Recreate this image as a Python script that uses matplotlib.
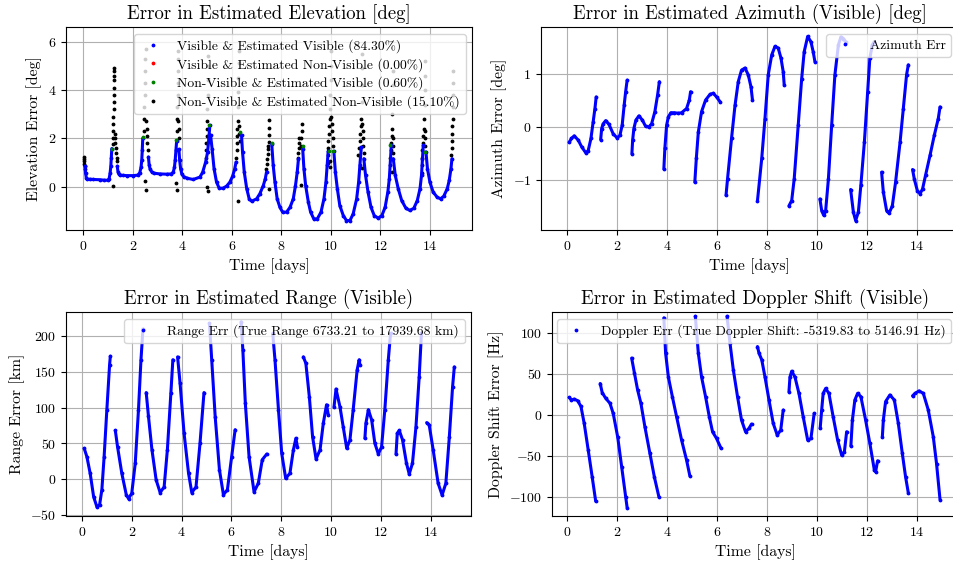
import matplotlib
matplotlib.use('Agg')
import matplotlib.pyplot as plt
from matplotlib.lines import Line2D
import numpy as np

nan = np.nan

# ---- elevation error [deg] (visible & estimated visible), passes split by nan
el_t = [0.07, 0.09, 0.12, 0.16, 0.25, 0.41, 0.67, 0.85, 0.98, 1.04, 1.08, 1.11, 1.13, 1.15, nan,
        1.37, 1.40, 1.44, 1.50, 1.60, 1.75, 2.02, 2.20, 2.28, 2.33, 2.36, 2.38, 2.40, nan,
        2.63, 2.66, 2.70, 2.76, 2.85, 3.10, 3.37, 3.55, 3.63, 3.68, 3.71, 3.74, 3.77, nan,
        3.86, 3.89, 3.93, 3.98, 4.05, 4.20, 4.44, 4.71, 4.82, 4.94, 5.02, 5.07, 5.11, nan,
        5.14, 5.20, 5.28, 5.38, 5.49, 5.65, 5.79, 5.92, 6.03, 6.11, 6.17, nan,
        6.39, 6.43, 6.50, 6.60, 6.70, 6.80, 7.00, 7.13, 7.27, 7.35, 7.40, nan,
        7.61, 7.67, 7.74, 7.83, 7.94, 8.05, 8.21, 8.35, 8.48, 8.57, 8.64, 8.69, nan,
        8.86, 8.91, 8.98, 9.09, 9.18, 9.31, 9.45, 9.60, 9.72, 9.80, 9.85, 9.89, nan,
        10.12, 10.18, 10.26, 10.36, 10.50, 10.63, 10.77, 10.90, 11.04, 11.12, 11.17, 11.23, nan,
        11.33, 11.40, 11.50, 11.62, 11.75, 11.91, 12.06, 12.19, 12.30, 12.36, 12.41, 12.44, nan,
        12.52, 12.60, 12.72, 12.86, 13.03, 13.19, 13.35, 13.49, 13.60, 13.66, 13.70, 13.73, nan,
        13.84, 13.90, 14.00, 14.13, 14.29, 14.43, 14.56, 14.70, 14.78, 14.85, 14.89]
el_err = [0.85, 0.55, 0.38, 0.32, 0.31, 0.30, 0.29, 0.27, 0.27, 0.33, 0.55, 0.85, 1.20, 1.58, nan,
          0.85, 0.62, 0.52, 0.48, 0.47, 0.46, 0.46, 0.48, 0.58, 0.80, 1.10, 1.50, 2.00, nan,
          1.23, 0.90, 0.72, 0.62, 0.56, 0.53, 0.52, 0.53, 0.60, 0.80, 1.10, 1.50, 1.90, nan,
          1.55, 1.10, 0.75, 0.52, 0.42, 0.35, 0.30, 0.40, 0.60, 1.02, 1.44, 2.00, 2.54, nan,
          2.13, 1.58, 0.75, 0.19, -0.06, -0.06, 0.03, 0.19, 0.44, 0.72, 1.02, nan,
          2.13, 1.44, 0.61, -0.08, -0.50, -0.60, -0.50, -0.29, 0.05, 0.33, 0.61, nan,
          1.78, 0.88, 0.19, -0.50, -0.85, -1.05, -1.05, -0.85, -0.50, 0.05, 0.61, 1.16, nan,
          1.58, 0.75, 0.05, -0.64, -1.05, -1.33, -1.33, -1.05, -0.50, 0.19, 0.88, 1.46, nan,
          1.46, 0.61, -0.08, -0.78, -1.19, -1.40, -1.40, -1.12, -0.50, 0.19, 0.88, 1.64, nan,
          1.16, 0.47, -0.22, -0.85, -1.19, -1.30, -1.19, -0.85, -0.22, 0.33, 1.16, 1.71, nan,
          1.16, 0.47, -0.08, -0.57, -0.89, -0.98, -0.89, -0.57, -0.08, 0.47, 1.16, 1.71, nan,
          1.44, 0.75, 0.19, -0.22, -0.43, -0.50, -0.39, -0.08, 0.26, 0.75, 1.16]

# non-visible & estimated visible
green_t = [1.15, 2.40, 3.74, 5.09, 6.33, 7.61, 8.86, 9.91, 10.10, 12.38, 13.82]
green_err = [1.58, 2.06, 1.92, 2.54, 2.27, 1.80, 1.70, 1.46, 1.46, 1.71, 1.44]

# visible & estimated non-visible (none)
red_t = []
red_err = []

# non-visible & estimated non-visible
black_t = [0.03, 0.03, 0.04, 0.04, 0.05, 0.05,
           1.19, 1.20, 1.20, 1.21, 1.21, 1.22, 1.22, 1.22, 1.23, 1.23, 1.24, 1.24, 1.24,
           1.27, 1.28, 1.29, 1.31, 1.33, 1.34, 1.35, 1.21,
           2.44, 2.46, 2.47, 2.48, 2.49, 2.50, 2.51, 2.52, 2.55, 2.56, 2.58, 2.59, 2.61, 2.49, 2.53,
           3.78, 3.79, 3.80, 3.81, 3.82, 3.82, 3.83, 3.84, 3.84, 3.85, 3.86, 3.74, 3.77,
           4.94, 4.96, 4.97, 4.98, 4.99, 5.00, 5.01, 5.02, 5.03, 5.04, 5.05, 4.98, 5.02,
           6.18, 6.19, 6.20, 6.21, 6.22, 6.23, 6.24, 6.25, 6.26, 6.27, 6.28, 6.27, 6.29, 6.31, 6.26,
           7.38, 7.40, 7.42, 7.44, 7.46, 7.47, 7.51, 7.51, 7.51, 7.51, 7.51,
           8.66, 8.68, 8.70, 8.72, 8.73, 8.80, 8.81, 8.82, 8.82, 8.78,
           9.87, 9.88, 9.89, 9.90, 9.91, 9.93, 9.95, 9.97, 9.98, 9.99, 10.00, 10.01,
           10.02, 10.04, 10.06, 10.07, 10.09, 9.95, 9.95,
           11.11, 11.14, 11.16, 11.18, 11.20, 11.22, 11.24, 11.25, 11.26, 11.27,
           11.27, 11.29, 11.30, 11.31, 11.32, 11.24,
           12.38, 12.40, 12.42, 12.44, 12.45, 12.46, 12.47, 12.48, 12.49, 12.50,
           12.50, 12.51, 12.52, 12.48,
           13.66, 13.68, 13.70, 13.72, 13.74, 13.76, 13.78, 13.79, 13.80, 13.81, 13.82,
           13.80, 13.81, 13.82, 13.70,
           14.87, 14.88, 14.89, 14.90, 14.91, 14.92, 14.93, 14.93, 14.94, 14.94]
black_err = [1.25, 1.15, 1.05, 0.95, 0.85, 0.75,
             1.75, 2.00, 2.30, 2.60, 2.90, 3.20, 3.50, 3.80, 4.10, 4.40, 4.60, 4.80, 4.90,
             2.20, 2.00, 1.80, 1.60, 1.40, 1.20, 1.05, 0.03,
             2.30, 2.80, 3.30, 3.80, 4.30, 4.80, 5.30, 5.70, 2.70, 2.40, 2.10, 1.80, 1.50, 0.22, -0.13,
             2.30, 2.80, 3.30, 3.80, 4.30, 4.80, 5.30, 5.60, 2.70, 2.40, 2.00, 0.15, -0.13,
             1.20, 1.50, 1.80, 2.10, 2.40, 2.70, 3.20, 3.80, 4.40, 5.00, 5.40, 0.00, -0.18,
             1.20, 1.50, 1.80, 2.10, 2.40, 2.70, 3.30, 3.90, 4.50, 5.10, 5.60, 2.50, 2.20, 1.90, -0.60,
             0.75, 0.95, 1.15, 1.35, 1.55, 1.70, 1.85, 2.15, 2.45, 2.75, -0.08,
             1.20, 1.40, 1.60, 1.80, 2.00, 1.70, 2.00, 2.30, 2.60, 0.08,
             1.00, 1.30, 1.60, 1.90, 2.20, 2.50, 2.80, 3.20, 3.80, 4.40, 5.00, 5.60,
             2.90, 2.60, 2.30, 2.00, 1.70, 0.80, 1.05,
             1.30, 1.60, 1.90, 2.20, 2.50, 2.80, 3.50, 4.20, 4.90, 5.50,
             2.60, 2.30, 2.00, 1.70, 1.40, 0.78,
             0.90, 1.20, 1.50, 1.80, 2.10, 2.40, 3.00, 3.60, 4.20, 4.80,
             2.00, 1.70, 1.40, 0.60,
             0.90, 1.20, 1.50, 1.80, 2.10, 2.40, 2.80, 3.40, 4.00, 4.60, 5.20,
             2.30, 2.00, 1.70, 0.55,
             1.30, 1.60, 1.90, 2.20, 2.50, 2.80, 3.30, 3.80, 4.30, 4.80]

# ---- azimuth error [deg]
az_t = [0.08, 0.17, 0.28, 0.44, 0.58, 0.74, 0.84, 0.95, 1.04, 1.11, 1.16, nan,
        1.34, 1.38, 1.44, 1.54, 1.67, 1.84, 2.00, 2.11, 2.20, 2.28, 2.34, 2.40, nan,
        2.59, 2.62, 2.67, 2.75, 2.87, 3.01, 3.14, 3.27, 3.38, 3.51, 3.62, 3.69, nan,
        3.87, 3.91, 3.98, 4.05, 4.15, 4.29, 4.45, 4.58, 4.78, 4.89, 4.94, nan,
        5.11, 5.17, 5.25, 5.38, 5.54, 5.72, 5.85, 5.98, 6.12, nan,
        6.36, 6.42, 6.58, 6.72, 6.85, 6.98, 7.12, 7.25, 7.36, 7.42, nan,
        7.62, 7.79, 7.92, 8.05, 8.19, 8.32, 8.45, 8.56, 8.65, 8.69, nan,
        8.88, 8.99, 9.09, 9.25, 9.39, 9.49, 9.63, 9.76, 9.85, 9.92, nan,
        10.12, 10.19, 10.27, 10.35, 10.46, 10.59, 10.72, 10.86, 10.96, 11.06, 11.15, nan,
        11.35, 11.46, 11.55, 11.66, 11.76, 11.90, 12.03, 12.12, 12.22, 12.30, nan,
        12.59, 12.66, 12.79, 12.89, 13.02, 13.15, 13.33, 13.46, 13.59, 13.66, nan,
        13.83, 13.90, 14.02, 14.13, 14.23, 14.35, 14.53, 14.70, 14.86, 14.93]
az_err = [-0.29, -0.22, -0.17, -0.25, -0.38, -0.49, -0.45, -0.22, 0.10, 0.35, 0.57, nan,
          -0.24, -0.03, 0.06, 0.12, 0.05, -0.13, -0.21, -0.16, 0.03, 0.41, 0.67, 0.89, nan,
          -0.51, -0.25, -0.03, 0.13, 0.21, 0.13, 0.01, 0.00, 0.06, 0.29, 0.61, 0.86, nan,
          -0.80, -0.41, 0.03, 0.19, 0.27, 0.27, 0.26, 0.27, 0.35, 0.51, 0.67, nan,
          -1.05, -0.60, -0.10, 0.29, 0.51, 0.62, 0.64, 0.57, 0.48, nan,
          -1.30, -0.99, -0.22, 0.41, 0.86, 1.08, 1.12, 0.99, 0.76, 0.51, nan,
          -1.40, -0.60, 0.16, 0.99, 1.37, 1.53, 1.50, 1.31, 1.05, 0.80, nan,
          -1.50, -1.40, -0.99, 0.03, 0.92, 1.43, 1.72, 1.62, 1.43, 1.24, nan,
          -1.37, -1.59, -1.68, -1.59, -0.99, 0.03, 0.99, 1.56, 1.71, 1.68, 1.62, nan,
          -1.19, -1.62, -1.78, -1.62, -1.11, -0.29, 0.67, 1.31, 1.56, 1.62, nan,
          -0.86, -1.24, -1.59, -1.64, -1.50, -1.05, -0.29, 0.35, 0.99, 1.18, nan,
          -0.81, -0.99, -1.21, -1.27, -1.18, -0.92, -0.54, -0.16, 0.16, 0.38]

# ---- range error [km]
rng_t = [0.09, 0.20, 0.33, 0.47, 0.60, 0.71, 0.80, 0.89, 1.00, 1.11, 1.14, nan,
         1.34, 1.43, 1.60, 1.78, 1.87, 2.00, 2.14, 2.27, 2.37, 2.45, nan,
         2.58, 2.67, 2.81, 2.98, 3.14, 3.30, 3.43, 3.57, 3.65, nan,
         3.84, 3.94, 4.10, 4.28, 4.41, 4.58, 4.74, 4.90, nan,
         5.12, 5.21, 5.35, 5.52, 5.68, 5.84, 6.01, 6.15, nan,
         6.39, 6.46, 6.56, 6.71, 6.91, 7.08, 7.24, 7.42, nan,
         7.66, 7.75, 7.89, 8.02, 8.18, 8.35, 8.49, 8.59, 8.65, nan,
         8.89, 8.99, 9.13, 9.26, 9.40, 9.56, 9.69, 9.82, 9.89, nan,
         10.12, 10.20, 10.36, 10.49, 10.63, 10.76, 10.89, 11.05, 11.13, 11.16, nan,
         11.36, 11.40, 11.50, 11.63, 11.76, 11.90, 12.03, 12.16, 12.30, 12.39, nan,
         12.61, 12.66, 12.74, 12.87, 13.03, 13.14, 13.27, 13.41, 13.54, 13.63, nan,
         13.84, 13.94, 14.10, 14.30, 14.46, 14.61, 14.75, 14.88, 14.95]
rng_err = [43, 31, 8, -25, -39, -36, -15, 31, 97, 160, 172, nan,
           68, 45, 8, -22, -27.5, -20, 22, 97, 167, 210, nan,
           121, 88, 41, -1.4, -19, -11, 41, 120, 167, nan,
           171, 134, 64, 8, -19, -11, 50, 121, nan,
           218, 167, 87, 13, -22, -15, 31, 69, nan,
           220, 181, 106, 31, -18, -6, 27, 35, nan,
           204, 167, 97, 36, 0.9, 8, 41, 57, 45, nan,
           171, 162, 115, 59, 28, 41, 78, 104, 90, nan,
           101, 126, 101, 73, 43, 55, 97, 153, 167, 160, nan,
           57, 78, 97, 83, 50, 35, 45, 97, 167, 204, nan,
           35, 64, 68, 55, 22, 7, 22, 73, 143, 204, nan,
           79, 76, 41, -6, -22.5, -6, 59, 129, 157]

# ---- doppler shift error [Hz]
dop_t = [0.08, 0.17, 0.28, 0.42, 0.55, 0.68, 0.84, 1.00, 1.14, nan,
         1.32, 1.40, 1.54, 1.71, 1.84, 2.02, 2.18, 2.34, 2.40, nan,
         2.58, 2.69, 2.82, 2.95, 3.11, 3.31, 3.49, 3.67, nan,
         3.87, 3.94, 4.05, 4.21, 4.38, 4.58, 4.78, 4.91, nan,
         5.13, 5.25, 5.38, 5.54, 5.69, 5.82, 5.98, 6.16, nan,
         6.40, 6.52, 6.65, 6.82, 6.98, 7.14, 7.28, 7.38, nan,
         7.62, 7.68, 7.79, 7.92, 8.08, 8.25, 8.41, 8.55, 8.65, nan,
         8.88, 8.92, 8.99, 9.12, 9.28, 9.45, 9.63, 9.76, 9.89, nan,
         10.13, 10.19, 10.25, 10.35, 10.48, 10.65, 10.83, 10.99, 11.10, 11.19, nan,
         11.36, 11.42, 11.52, 11.63, 11.76, 11.95, 12.12, 12.30, 12.35, 12.43, nan,
         12.62, 12.66, 12.75, 12.92, 13.10, 13.26, 13.42, 13.55, 13.66, nan,
         13.83, 13.93, 14.09, 14.26, 14.46, 14.66, 14.79, 14.93]
dop_err = [21, 18, 19, 17, 10, -10.6, -43, -76, -105.5, nan,
           38, 27, 20, 14, 1.7, -27, -63.5, -100, -113.5, nan,
           69, 51, 30, 14, -14.7, -47, -76, -100, nan,
           118, 75, 46, 22, -2.5, -31, -55.4, -74.5, nan,
           120, 75, 46, 22, -2.5, -20.8, -29, -41, nan,
           120, 87, 55, 22, -6.5, -20.8, -16.7, -11.4, nan,
           83, 75, 67, 46, 18, -10.6, -24.9, -18.7, 5.7, nan,
           28, 46, 53, 46, 26, -2.5, -31, -29, 1.6, nan,
           -16.7, 5.7, 26, 32, 26, -2.5, -31, -49.3, -45.2, -20.8, nan,
           -38, -6.5, 18, 26, 22, -6.5, -35, -67.6, -69.6, -56.2, nan,
           -27, -6.5, 16, 24, 18, -10.6, -47.3, -75.7, -95.3, nan,
           23, 26, 29, 26, 5.7, -26.9, -59.5, -103.5]

el_ticks = [0, 2, 4, 6]
az_ticks = [-1, 0, 1]
rng_ticks = [-50, 0, 50, 100, 150, 200]
dop_ticks = [-100, -50, 0, 50, 100]
day_ticks = [0, 2, 4, 6, 8, 10, 12, 14]

plt.rcParams['font.family'] = ['cmr10', 'DejaVu Serif']
plt.rcParams['mathtext.fontset'] = 'cm'
plt.rcParams['axes.formatter.use_mathtext'] = True
plt.rcParams['axes.unicode_minus'] = True

W, H = 954, 565
fig = plt.figure(figsize=(W / 100, H / 100), dpi=100)


def box(l, t, r, b):
    return [l / W, 1 - b / H, (r - l) / W, (b - t) / H]


ax1 = fig.add_axes(box(66, 27, 472.5, 230))
ax2 = fig.add_axes(box(541, 27, 958, 230))
ax3 = fig.add_axes(box(66, 312, 471.5, 516))
ax4 = fig.add_axes(box(552, 312, 958, 516))

LW = 2.2
MS = 3.5
LEG = 9.8


def trace(ax, t, v):
    ax.plot(t, v, color='b', lw=LW, solid_capstyle='round', solid_joinstyle='round')
    ax.plot(t, v, 'b.', ms=MS)


def dot(c):
    return Line2D([], [], ls='', marker='.', color=c, ms=MS)


# elevation
ax1.plot(black_t, black_err, 'k.', ms=MS)
ax1.plot(red_t, red_err, 'r.', ms=MS)
trace(ax1, el_t, el_err)
ax1.plot(green_t, green_err, '.', color='green', ms=MS)
ax1.legend([dot('b'), dot('r'), dot('green'), dot('k')],
           ['Visible & Estimated Visible (84.30%)',
            'Visible & Estimated Non-Visible (0.00%)',
            'Non-Visible & Estimated Visible (0.60%)',
            'Non-Visible & Estimated Non-Visible (15.10%)'],
           loc='upper right', fontsize=LEG, labelspacing=0.35)
ax1.set_title('Error in Estimated Elevation [deg]', fontsize=13.5)
ax1.set_ylabel('Elevation Error [deg]', fontsize=11.3)
ax1.set_xlim(-0.70, 15.72)
ax1.set_ylim(-1.79, 6.61)
ax1.set_yticks(el_ticks)

# azimuth
trace(ax2, az_t, az_err)
ax2.legend([dot('b')], ['Azimuth Err'], loc='upper right', fontsize=LEG)
ax2.set_title('Error in Estimated Azimuth (Visible) [deg]', fontsize=13.5)
ax2.set_ylabel('Azimuth Error [deg]', fontsize=11.3)
ax2.set_xlim(-1.05, 15.65)
ax2.set_ylim(-1.96, 1.90)
ax2.set_yticks(az_ticks)

# range
trace(ax3, rng_t, rng_err)
ax3.legend([dot('b')], ['Range Err (True Range 6733.21 to 17939.68 km)'],
           loc='upper right', fontsize=LEG)
ax3.set_title('Error in Estimated Range (Visible)', fontsize=13.5)
ax3.set_ylabel('Range Error [km]', fontsize=11.3)
ax3.set_xlim(-0.64, 15.64)
ax3.set_ylim(-51.8, 233.9)
ax3.set_yticks(rng_ticks)

# doppler
trace(ax4, dop_t, dop_err)
ax4.legend([dot('b')], ['Doppler Err (True Doppler Shift: -5319.83 to 5146.91 Hz)'],
           loc='upper right', fontsize=LEG)
ax4.set_title('Error in Estimated Doppler Shift (Visible)', fontsize=13.5)
ax4.set_ylabel('Doppler Shift Error [Hz]', fontsize=11.3)
ax4.set_xlim(-0.61, 15.65)
ax4.set_ylim(-123.5, 125.2)
ax4.set_yticks(dop_ticks)

for ax in (ax1, ax2, ax3, ax4):
    ax.set_xticks(day_ticks)
    ax.set_xlabel('Time [days]', fontsize=11.3)
    ax.tick_params(labelsize=10)
    ax.grid(True)
    ax.set_axisbelow(True)

fig.savefig('out.png', dpi=100)
